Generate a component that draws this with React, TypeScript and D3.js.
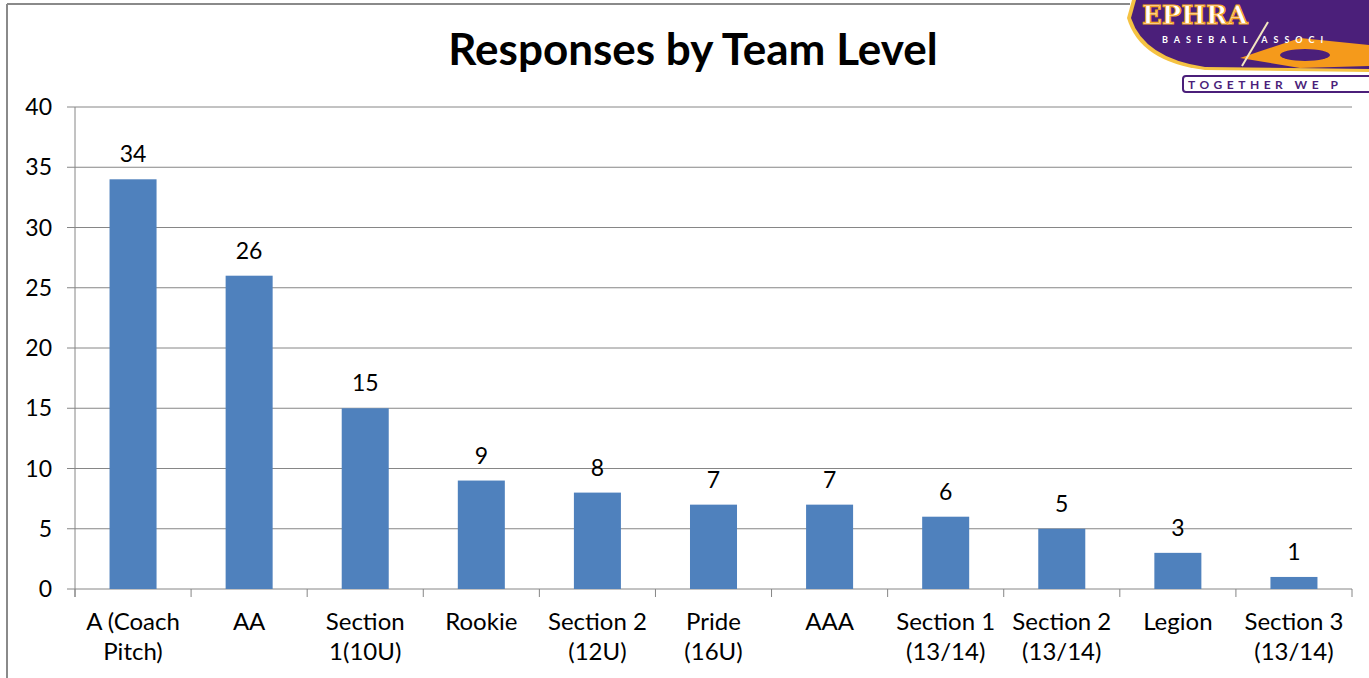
import React from "react";
import * as d3 from "d3";

const categories: string[][] = [
  ["A (Coach", "Pitch)"],
  ["AA"],
  ["Section", "1(10U)"],
  ["Rookie"],
  ["Section 2", "(12U)"],
  ["Pride", "(16U)"],
  ["AAA"],
  ["Section 1", "(13/14)"],
  ["Section 2", "(13/14)"],
  ["Legion"],
  ["Section 3", "(13/14)"],
];
const values: number[] = [34, 26, 15, 9, 8, 7, 7, 6, 5, 3, 1];
const yTicks: number[] = [0, 5, 10, 15, 20, 25, 30, 35, 40];
const title = "Responses by Team Level";

const W = 1369;
const H = 678;
const FONT = "Lato, 'Open Sans', sans-serif";

export default function App() {
  const left = 75, right = 1352, top = 107, bottom = 589;
  const keys = categories.map((_, i) => String(i));
  const x = d3.scaleBand<string>().domain(keys).range([left, right]).padding(0);
  const y = d3.scaleLinear().domain([0, 40]).range([bottom, top]);
  const bw = x.bandwidth() * 0.405;
  const grid = "#868686";
  const barColor = "#4f81bd";

  return (
    <svg width={W} height={H} style={{ position: "absolute", left: 0, top: 0, background: "#fff" }} fontFamily={FONT}>
      <rect x={0} y={0} width={W} height={H} fill="#fff" />
      {/* frame */}
      <line x1={7} y1={4} x2={7} y2={H} stroke="#8a8a8a" strokeWidth={2} />
      <line x1={7} y1={4} x2={1130} y2={4} stroke="#8a8a8a" strokeWidth={2} />

      {/* title */}
      <text x={693} y={65} textAnchor="middle" fontSize={44} fontWeight="bold" fill="#000">{title}</text>

      {/* grid lines and y ticks */}
      {yTicks.map((t) => (
        <g key={t}>
          <line x1={left - 8} x2={right} y1={y(t)} y2={y(t)} stroke={grid} strokeWidth={1} />
          <text x={52} y={y(t) + 8} textAnchor="end" fontSize={23} fill="#000">{t}</text>
        </g>
      ))}
      {/* y axis */}
      <line x1={left} x2={left} y1={top} y2={bottom + 8} stroke={grid} strokeWidth={1} />
      {/* x tick marks */}
      {keys.map((k) => (
        <line key={"t" + k} x1={x(k)!} x2={x(k)!} y1={bottom} y2={bottom + 8} stroke={grid} />
      ))}
      <line x1={right} x2={right} y1={bottom} y2={bottom + 8} stroke={grid} />

      {/* bars */}
      {values.map((v, i) => {
        const cx = x(keys[i])! + x.bandwidth() / 2;
        return (
          <g key={"b" + i}>
            <rect x={cx - bw / 2} y={y(v)} width={bw} height={bottom - y(v)} fill={barColor} />
            <text x={cx} y={y(v) - 17} textAnchor="middle" fontSize={23} fill="#000">{v}</text>
          </g>
        );
      })}

      {/* x labels */}
      {categories.map((lines, i) => {
        const cx = x(keys[i])! + x.bandwidth() / 2;
        return (
          <text key={"l" + i} x={cx} textAnchor="middle" fontSize={24} fill="#000">
            {lines.map((ln, j) => (
              <tspan key={j} x={cx} y={630 + j * 30}>{ln}</tspan>
            ))}
          </text>
        );
      })}

      {/* logo approximation */}
      <g>
        <path d="M1127,18 Q1140,62 1205,70 L1369,72 L1369,0 L1132,0 Z" fill="#f5c242" />
        <path d="M1131,18 Q1144,58 1205,67 L1369,69 L1369,0 L1136,0 Z" fill="#4b1f7a" />
        <path d="M1240,58 L1300,38 L1369,45 L1369,66 L1300,68 Z" fill="#f59a1b" />
        <ellipse cx={1305} cy={55} rx={25} ry={6} fill="#4b1f7a" />
        <text x={1142} y={24} fontSize={26} fontWeight="bold" fill="#fff" stroke="#f5a623" strokeWidth={1.2} fontFamily="'DejaVu Serif', serif">EPHRA</text>
        <text x={1162} y={43} fontSize={9} fill="#fff" letterSpacing={6} fontWeight="bold">BASEBALL ASSOCI</text>
        <line x1={1268} y1={22} x2={1242} y2={66} stroke="#f3e6c0" strokeWidth={2} />
        <rect x={1183} y={76} width={200} height={16} rx={3} fill="#fff" stroke="#4b1f7a" strokeWidth={2} />
        <text x={1188} y={89} fontSize={12} fontWeight="bold" fill="#4b1f7a" letterSpacing={4.5}>TOGETHER WE P</text>
      </g>
    </svg>
  );
}
